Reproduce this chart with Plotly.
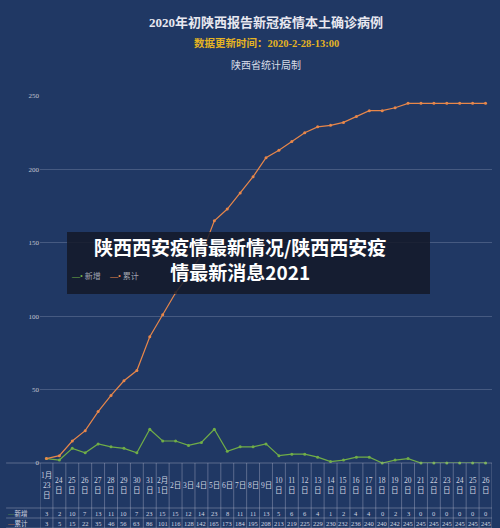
import plotly.graph_objects as go

dates = ["1月<br>23<br>日", "24<br>日", "25<br>日", "26<br>日", "27<br>日", "28<br>日", "29<br>日", "30<br>日", "31<br>日", "2月<br>1日",
         "2日", "3日", "4日", "5日", "6日", "7日", "8日", "9日"] + ["%d<br>日" % d for d in range(10, 27)]
new_cases = [3, 2, 10, 7, 13, 11, 10, 7, 23, 15, 15, 12, 14, 23, 8, 11, 11, 13,
             5, 6, 6, 4, 1, 2, 4, 4, 0, 2, 3, 0, 0, 0, 0, 0, 0]
total_cases = [3, 5, 15, 22, 35, 46, 56, 63, 86, 101, 116, 128, 142, 165, 173, 184, 195, 208,
               213, 219, 225, 229, 230, 232, 236, 240, 240, 242, 245, 245, 245, 245, 245, 245, 245]

bg = "#203864"
green = "#70ad47"
orange = "#e8874a"
cjk = "Liberation Serif, Noto Sans CJK SC"
xs = list(range(len(dates)))

fig = go.Figure()
fig.add_trace(go.Scatter(x=xs, y=new_cases, mode="lines+markers", name="新增",
                         line=dict(color=green, width=1.2), marker=dict(size=3), cliponaxis=False))
fig.add_trace(go.Scatter(x=xs, y=total_cases, mode="lines+markers", name="累计",
                         line=dict(color=orange, width=1.2), marker=dict(size=3), cliponaxis=False))

ann = []
shapes = []
ph = 367.0
pw = 452.0
top_h = -45 / ph
row1 = -55 / ph
row2 = -65 / ph
grid = "rgba(200,200,220,0.35)"
# table grid
for yv in [0, top_h, row1, row2]:
    shapes.append(dict(type="line", xref="paper", yref="paper", x0=-0.075, x1=1.0, y0=yv, y1=yv,
                       line=dict(color=grid, width=1)))
for i in range(len(dates) + 1):
    shapes.append(dict(type="line", xref="x", yref="paper", x0=i - 0.5, x1=i - 0.5, y0=0, y1=row2,
                       line=dict(color=grid, width=1)))
cell = dict(showarrow=False, xref="x", yref="paper", yanchor="middle")
for i, d in enumerate(dates):
    ann.append(dict(cell, x=i, y=top_h / 2, text=d, font=dict(size=7.5, color="#d0d4e0", family=cjk)))
    ann.append(dict(cell, x=i, y=(top_h + row1) / 2, text=str(new_cases[i]),
                    font=dict(size=6.5, color="#d0d4e0", family=cjk)))
    ann.append(dict(cell, x=i, y=(row1 + row2) / 2, text=str(total_cases[i]),
                    font=dict(size=6.5, color="#d0d4e0", family=cjk)))
ann.append(dict(cell, xref="paper", x=-0.078, y=(top_h + row1) / 2, xanchor="left",
                text="<span style='color:%s'>—</span>新增" % green, font=dict(size=6.5, color="#d0d4e0", family=cjk)))
ann.append(dict(cell, xref="paper", x=-0.078, y=(row1 + row2) / 2, xanchor="left",
                text="<span style='color:%s'>—</span>累计" % orange, font=dict(size=6.5, color="#d0d4e0", family=cjk)))

# titles
ann.append(dict(x=0.5, y=1 + (96 - 13) / ph, xref="paper", yref="paper", text="<b>2020年初陕西报告新冠疫情本土确诊病例</b>",
                showarrow=False, font=dict(size=13, color="#e8e8f0", family=cjk)))
ann.append(dict(x=0.5, y=1 + (96 - 35) / ph, xref="paper", yref="paper", text="<b>数据更新时间：2020-2-28-13:00</b>",
                showarrow=False, font=dict(size=10.5, color="#e6b422", family=cjk)))
ann.append(dict(x=0.5, y=1 + (96 - 57) / ph, xref="paper", yref="paper", text="陕西省统计局制",
                showarrow=False, font=dict(size=10, color="#d8dce8", family=cjk)))

# overlay banner
shapes.append(dict(type="rect", xref="paper", yref="paper", x0=(67 - 40) / pw, x1=(430 - 40) / pw,
                   y0=(463 - 294) / ph, y1=(463 - 232) / ph, fillcolor="rgba(20,25,40,0.85)", line=dict(width=0)))
ann.append(dict(x=(240 - 40) / pw, y=(463 - 259) / ph, xref="paper", yref="paper", showarrow=False,
                text="<b>陕西西安疫情最新情况/陕西西安疫</b><br><b>情最新消息2021</b>",
                font=dict(size=19, color="white", family="Noto Sans CJK SC"), align="center"))

# legend drawn inside the banner
for lx, name, col in [(69, "新增", green), (107, "累计", orange)]:
    ann.append(dict(x=(lx - 40) / pw, y=(463 - 276) / ph, xref="paper", yref="paper", xanchor="left",
                    showarrow=False, text="<span style='color:%s'>—•</span> %s" % (col, name),
                    font=dict(size=8, color="#a0a4b0", family=cjk)))

fig.update_layout(
    width=500, height=528,
    margin=dict(l=40, r=8, t=96, b=65),
    paper_bgcolor=bg, plot_bgcolor=bg,
    showlegend=False,
    xaxis=dict(range=[-0.5, 34.5], showticklabels=False, showgrid=False, zeroline=False),
    yaxis=dict(range=[0, 250], dtick=50, gridcolor="rgba(160,170,200,0.3)", zeroline=False,
               tickfont=dict(size=7, color="#c0c4d0", family=cjk)),
    annotations=ann, shapes=shapes,
)
fig.write_html("out.html", config={"displayModeBar": False},
               post_script="document.body.style.margin='0';document.body.style.background='%s';" % bg)
